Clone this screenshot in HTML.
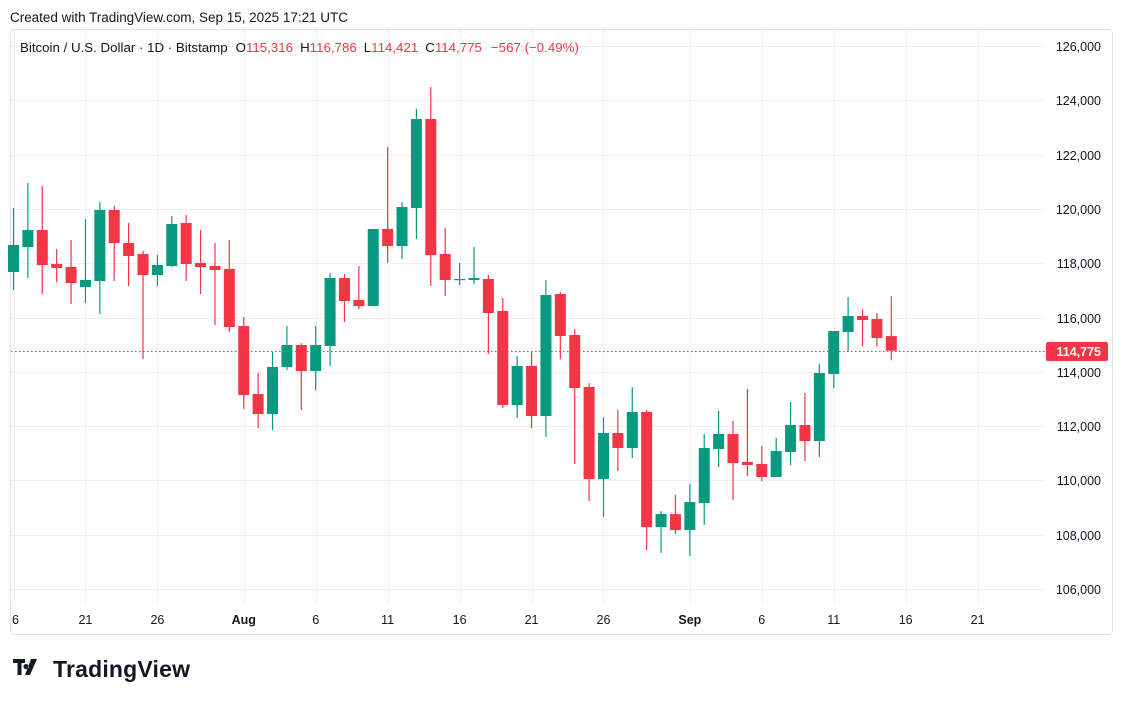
<!DOCTYPE html>
<html><head><meta charset="utf-8"><style>
html,body{margin:0;padding:0;background:#fff;}
body{width:1123px;height:703px;overflow:hidden;position:relative;font-family:"Liberation Sans",sans-serif;color:#131722;}
svg{position:absolute;left:0;top:0;}
</style></head><body>
<svg id="chart" width="1123" height="703">
<text x="10" y="22" font-size="13.5" textLength="338" fill="#131722">Created with TradingView.com, Sep 15, 2025 17:21 UTC</text>
<rect x="10.5" y="29.5" width="1102" height="605" rx="4" fill="#fff" stroke="#e0e3eb"/>
<g id="grid"></g>
<g id="candles"></g>
<g id="axes"></g>
<text x="20" y="52" font-size="13.3" fill="#131722">Bitcoin / U.S. Dollar · 1D · Bitstamp<tspan dx="8">O</tspan><tspan fill="#f23645">115,316</tspan><tspan dx="7">H</tspan><tspan fill="#f23645">116,786</tspan><tspan dx="7">L</tspan><tspan fill="#f23645">114,421</tspan><tspan dx="7">C</tspan><tspan fill="#f23645">114,775</tspan><tspan dx="9" fill="#f23645">−567 (−0.49%)</tspan></text>
<g>
<path d="M13 659h12v4h-3.5v12h-4v-12H13z M26 664a2.6 2.6 0 1 0 0.1 0z M31 659h6l-7 16h-5z" fill="#131722"/>
<text x="53" y="677" font-size="23" font-weight="bold" textLength="137" fill="#131722">TradingView</text>
</g>
</svg>
<script>
const days=["Jul16","Jul17","Jul18","Jul19","Jul20","Jul21","Jul22","Jul23","Jul24","Jul25","Jul26","Jul27","Jul28","Jul29","Jul30","Jul31","Aug1","Aug2","Aug3","Aug4","Aug5","Aug6","Aug7","Aug8","Aug9","Aug10","Aug11","Aug12","Aug13","Aug14","Aug15","Aug16","Aug17","Aug18","Aug19","Aug20","Aug21","Aug22","Aug23","Aug24","Aug25","Aug26","Aug27","Aug28","Aug29","Aug30","Aug31","Sep1","Sep2","Sep3","Sep4","Sep5","Sep6","Sep7","Sep8","Sep9","Sep10","Sep11","Sep12","Sep13","Sep14","Sep15"];
const opens=[117675,118596,119222,117970,117860,117123,117344,119959,118744,118338,117565,117896,119480,118007,117896,117786,115686,113182,112445,114176,114987,114029,114950,117454,116644,116423,119259,118633,120032,123310,118338,117381,117381,117418,116239,112777,114213,112372,116865,115355,113440,110052,111745,111193,112519,108283,108761,108173,109168,111157,111709,110678,110604,110125,111046,112040,111451,113918,115465,116055,115944,115316];
const highs=[120032,120953,120843,118522,118854,119627,120253,120106,119480,118449,118302,119738,119775,119222,118744,118854,116018,113955,114729,115686,115061,115686,117638,117601,117896,119259,122279,120253,123679,124489,119296,118007,118596,117565,116718,114581,114766,117381,116939,115576,113587,112335,112593,113440,112593,108873,109463,109868,111709,112556,112188,113366,111266,111562,112888,113219,114287,115502,116754,116313,116165,116786];
const lows=[117012,117454,116865,117307,116497,116534,116128,117344,117160,114471,117160,117860,117344,116865,115723,115465,112630,111930,111856,114066,112593,113329,114213,115834,116313,116423,118007,118154,118891,117160,116791,117196,117233,114655,112666,112298,111930,111598,114471,110604,109241,108651,110346,110825,107437,107326,108026,107216,108357,110494,109278,110162,109978,110125,110568,110714,110861,113403,114729,114933,114933,114421];
const closes=[118670,119222,117933,117823,117270,117381,119959,118744,118265,117565,117933,119443,117970,117860,117749,115649,113145,112445,114176,114987,114029,114987,117454,116607,116423,119259,118633,120069,123310,118302,117381,117418,117454,116165,112777,114213,112372,116828,115318,113403,110052,111745,111193,112519,108283,108761,108173,109205,111193,111709,110641,110568,110125,111083,112040,111451,113955,115502,116055,115907,115245,114775];
const priceTicks=[106000,108000,110000,112000,114000,116000,118000,120000,122000,124000,126000];
const timeTickDays=[0,5,10,16,21,26,31,36,41,47,52,57,62,67];
const timeTickLabels=["6","21","26","Aug","6","11","16","21","26","Sep","6","11","16","21"];
const lastPrice=114775;

const NS="http://www.w3.org/2000/svg";
function X(d){return 13.5+14.39*d;}
function Y(p){return 589-(p-106000)/2000*54.3;}
function mk(tag,attrs,parent){const e=document.createElementNS(NS,tag);for(const k in attrs)e.setAttribute(k,attrs[k]);parent.appendChild(e);return e;}
const grid=document.getElementById('grid'),cg=document.getElementById('candles'),ax=document.getElementById('axes');
priceTicks.forEach(p=>{
  const y=Math.round(Y(p))+0.5;
  const l=mk('line',{x1:11,x2:1045,y1:y,y2:y,stroke:'#eef0f5'},grid);
  
  
  const t=mk('text',{x:1101,y:y+4.5,'font-size':12.5,'text-anchor':'end',fill:'#131722'},ax);
  t.textContent=p.toLocaleString('en-US');
  
  
});
timeTickDays.forEach((d,i)=>{
  const x=Math.round(X(d))+0.5;
  if(x<1045){
  const l=mk('line',{x1:x,x2:x,y1:30,y2:603,stroke:'#eef0f5'},grid);
  
  }
  const lab=timeTickLabels[i];
  const bold=(lab==='Aug'||lab==='Sep');
  const t=mk('text',{x:(i===0?X(d)+2:X(d)),y:624,'font-size':12.5,'text-anchor':'middle',fill:'#131722','font-weight':bold?'bold':'normal'},ax);
  t.textContent=lab;
  
  
});
days.forEach((d,i)=>{
  const o=opens[i],h=highs[i],l=lows[i],c=closes[i];
  const up=c>=o, col=up?'#089981':'#f23645';
  const x=X(i);
  const g=mk('g',{},cg);
  
  
  mk('line',{x1:x,x2:x,y1:Y(h),y2:Y(l),stroke:col,'stroke-width':1.2},g);
  const top=Y(Math.max(o,c)),bot=Y(Math.min(o,c));
  mk('rect',{x:x-5.5,y:top,width:11,height:Math.max(1.2,bot-top),fill:col},g);
});
const ly=Math.round(Y(lastPrice))+0.5;
const pl=mk('line',{x1:11,x2:1045,y1:ly,y2:ly,stroke:'#f23645','stroke-dasharray':'1.5 2.5'},ax);


const pb=mk('rect',{x:1046,y:ly-9.5,width:62,height:19,rx:2,fill:'#f23645'},ax);


const pt=mk('text',{x:1101,y:ly+4.5,'font-size':12.5,'text-anchor':'end',fill:'#fff','font-weight':'bold'},ax);
pt.textContent=lastPrice.toLocaleString('en-US');


</script>
</body></html>
